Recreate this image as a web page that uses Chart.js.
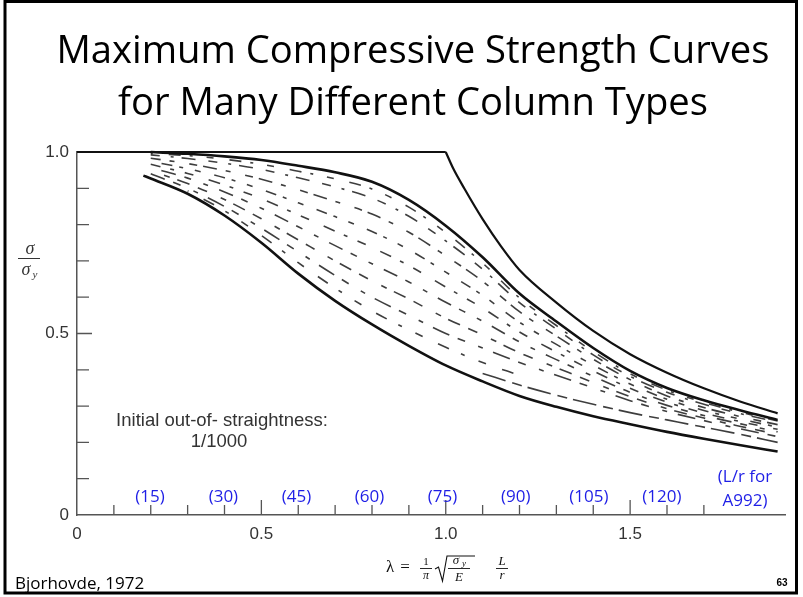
<!DOCTYPE html>
<html>
<head>
<meta charset="utf-8">
<script src="https://cdn.jsdelivr.net/npm/chart.js@4.4.1/dist/chart.umd.min.js"></script>
<style>
  html, body { margin: 0; padding: 0; background: #fff; }
  #wrap { width: 803px; height: 597px; position: relative; }
</style>
</head>
<body>
<div id="wrap"><canvas id="chart" width="803" height="597"></canvas></div>
<script>
// ─── DATA (λ on x, σ/σy on y) ───────────────────────

// yield plateau + Euler curve
const plateauLambda = [0, 1.0];
const plateauSigma  = [1.0, 1.0];
const eulerLambda   = [1.0, 1.02, 1.05, 1.1, 1.15, 1.2, 1.3, 1.4, 1.5, 1.6, 1.7, 1.8, 1.9];
const eulerSigma    = [1.0, 0.955, 0.9, 0.815, 0.74, 0.675, 0.585, 0.507, 0.443, 0.392, 0.349, 0.312, 0.28];

// upper and lower envelope of the column curves
const upperLambda = [0.2, 0.3, 0.4, 0.5, 0.6, 0.7, 0.8, 0.9, 1.0, 1.1, 1.2, 1.3, 1.4, 1.5, 1.6, 1.7, 1.8, 1.9];
const upperSigma  = [1.0, 0.995, 0.988, 0.978, 0.962, 0.944, 0.918, 0.868, 0.797, 0.71, 0.61, 0.533, 0.46, 0.397, 0.35, 0.316, 0.288, 0.262];
const lowerLambda = [0.18, 0.2, 0.3, 0.4, 0.5, 0.6, 0.7, 0.8, 0.9, 1.0, 1.1, 1.2, 1.3, 1.4, 1.5, 1.6, 1.7, 1.8, 1.9];
const lowerSigma  = [0.935, 0.927, 0.885, 0.825, 0.75, 0.665, 0.59, 0.525, 0.466, 0.412, 0.368, 0.328, 0.298, 0.272, 0.25, 0.229, 0.21, 0.192, 0.175];

// the many individual column curves (broken lines inside the band)
const bandLambda = [0.2, 0.3, 0.4, 0.5, 0.6, 0.7, 0.8, 0.9, 1.0, 1.1, 1.2, 1.3, 1.4, 1.5, 1.6, 1.7, 1.8, 1.9];
const band0 = [0.996, 0.99, 0.98, 0.966, 0.947, 0.926, 0.898, 0.848, 0.778, 0.694, 0.598, 0.522, 0.45, 0.389, 0.344, 0.31, 0.283, 0.259];
const band1 = [0.992, 0.982, 0.969, 0.952, 0.929, 0.904, 0.873, 0.823, 0.755, 0.677, 0.585, 0.512, 0.441, 0.382, 0.338, 0.305, 0.279, 0.256];
const band2 = [0.983, 0.968, 0.949, 0.925, 0.896, 0.864, 0.829, 0.779, 0.714, 0.644, 0.56, 0.493, 0.429, 0.373, 0.328, 0.296, 0.271, 0.249];
const band3 = [0.974, 0.954, 0.929, 0.897, 0.86, 0.822, 0.781, 0.731, 0.669, 0.605, 0.531, 0.47, 0.413, 0.361, 0.319, 0.288, 0.264, 0.242];
const band4 = [0.966, 0.941, 0.909, 0.871, 0.827, 0.782, 0.737, 0.687, 0.628, 0.57, 0.504, 0.449, 0.397, 0.349, 0.311, 0.281, 0.257, 0.236];
const band5 = [0.957, 0.928, 0.89, 0.845, 0.794, 0.742, 0.692, 0.642, 0.586, 0.534, 0.477, 0.428, 0.382, 0.338, 0.302, 0.274, 0.251, 0.229];
const band6 = [0.948, 0.913, 0.869, 0.816, 0.758, 0.7, 0.645, 0.595, 0.542, 0.496, 0.447, 0.406, 0.365, 0.326, 0.293, 0.267, 0.244, 0.222];
const band7 = [0.94, 0.9, 0.85, 0.79, 0.725, 0.66, 0.6, 0.55, 0.5, 0.46, 0.42, 0.385, 0.35, 0.315, 0.285, 0.26, 0.237, 0.216];
const band8Lambda = [1.1, 1.2, 1.3, 1.4, 1.5, 1.6, 1.7, 1.8, 1.9];
const band8 = [0.39, 0.358, 0.33, 0.305, 0.282, 0.262, 0.242, 0.222, 0.2];
const band9Lambda = [0.3, 0.4, 0.5, 0.6, 0.7, 0.8, 0.9, 1.0, 1.1, 1.2];
const band9 = [0.893, 0.838, 0.77, 0.695, 0.625, 0.562, 0.51, 0.462, 0.42, 0.385];

// slenderness L/r for A992, placed over the λ axis
const lrLabels = ['(15)', '(30)', '(45)', '(60)', '(75)', '(90)', '(105)', '(120)'];
const lrLambda = [0.198, 0.397, 0.595, 0.793, 0.991, 1.19, 1.388, 1.586];

const titleLines = ['Maximum Compressive Strength Curves', 'for Many Different Column Types'];

// ─── HELPERS ────────────────────────────────────────

const pts = (xs, ys) => xs.map((v, i) => ({ x: v, y: ys[i] }));
const isHalf = v => Math.abs(v * 2 - Math.round(v * 2)) < 1e-6;

function solid(label, xs, ys, w) {
  return {
    label, data: pts(xs, ys),
    borderColor: '#111', borderWidth: w,
    pointRadius: 0, cubicInterpolationMode: 'monotone', clip: false
  };
}

function broken(label, xs, ys, dash, offset) {
  return {
    label, data: pts(xs, ys),
    borderColor: 'rgba(20,20,20,0.82)', borderWidth: 1.6,
    borderDash: dash, borderDashOffset: offset,
    pointRadius: 0, cubicInterpolationMode: 'monotone'
  };
}

// ─── DECORATION PLUGIN ──────────────────────────────

const slide = {
  id: 'slide',
  beforeDraw(chart) {
    const ctx = chart.ctx;
    ctx.save();
    ctx.fillStyle = '#fff';
    ctx.fillRect(0, 0, chart.width, chart.height);
    ctx.restore();
  },
  afterDraw(chart) {
    const { ctx, scales: { x, y } } = chart;
    ctx.save();

    // inward tick marks
    ctx.strokeStyle = '#555';
    ctx.lineWidth = 1.3;
    ctx.beginPath();
    x.ticks.forEach(t => {
      const v = t.value;
      if (v < 0.05 || v > 1.75) return;
      const px = x.getPixelForValue(v);
      ctx.moveTo(px, y.bottom);
      ctx.lineTo(px, y.bottom - (isHalf(v) ? 15 : 10));
    });
    y.ticks.forEach(t => {
      const v = t.value;
      if (v < 0.05 || v > 0.95) return;
      const py = y.getPixelForValue(v);
      ctx.moveTo(x.left, py);
      ctx.lineTo(x.left + (isHalf(v) ? 15 : 12), py);
    });
    ctx.stroke();

    // title
    ctx.fillStyle = '#000';
    ctx.textAlign = 'center';
    ctx.textBaseline = 'alphabetic';
    ctx.font = '40px "Open Sans"';
    const fit = 40 * 713 / ctx.measureText(titleLines[0]).width;
    ctx.font = fit.toFixed(1) + 'px "Open Sans"';
    ctx.fillText(titleLines[0], 413, 63);
    ctx.fillText(titleLines[1], 413, 115);

    // L/r labels
    ctx.fillStyle = '#1e1ee6';
    ctx.font = '17px "Open Sans"';
    ctx.textBaseline = 'middle';
    lrLabels.forEach((s, i) => ctx.fillText(s, x.getPixelForValue(lrLambda[i]), 497));
    ctx.fillText('(L/r for', 745, 477);
    ctx.fillText('A992)', 745, 501);

    // note
    ctx.fillStyle = '#333';
    ctx.font = '18.5px "Liberation Sans"';
    ctx.fillText('Initial out-of- straightness:', 222, 421);
    ctx.fillText('1/1000', 219, 442);

    // y axis label σ / σy
    ctx.textBaseline = 'alphabetic';
    ctx.font = 'italic 18px "Liberation Serif"';
    ctx.fillText('σ', 30, 254);
    ctx.fillText('σ', 26, 275);
    ctx.font = 'italic 11px "Liberation Serif"';
    ctx.fillText('y', 35, 278);
    ctx.strokeStyle = '#333';
    ctx.lineWidth = 1;
    ctx.beginPath();
    ctx.moveTo(18, 258.5); ctx.lineTo(40, 258.5);
    ctx.stroke();

    // λ = (1/π) √(σy/E) L/r
    ctx.fillStyle = '#111';
    ctx.strokeStyle = '#111';
    ctx.font = '17px "Liberation Serif"';
    ctx.fillText('λ', 390, 572);
    ctx.fillText('=', 405, 572);
    ctx.font = '11px "Liberation Serif"';
    ctx.fillText('1', 426, 565);
    ctx.font = 'italic 12px "Liberation Serif"';
    ctx.fillText('π', 426, 579);
    ctx.font = 'italic 13px "Liberation Serif"';
    ctx.fillText('σ', 456, 564);
    ctx.fillText('E', 459, 581);
    ctx.fillText('L', 502, 565);
    ctx.fillText('r', 502, 579);
    ctx.font = 'italic 9px "Liberation Serif"';
    ctx.fillText('y', 464, 566);
    ctx.lineWidth = 0.9;
    ctx.beginPath();
    ctx.moveTo(420, 568.5); ctx.lineTo(432, 568.5);
    ctx.moveTo(448, 568.5); ctx.lineTo(470, 568.5);
    ctx.moveTo(496, 568.5); ctx.lineTo(508, 568.5);
    ctx.stroke();
    ctx.lineWidth = 1.1;
    ctx.beginPath();
    ctx.moveTo(435, 569); ctx.lineTo(438.5, 567); ctx.lineTo(442.5, 581);
    ctx.lineTo(447, 556); ctx.lineTo(475, 556);
    ctx.stroke();

    // footer
    ctx.fillStyle = '#000';
    ctx.textAlign = 'left';
    ctx.font = '17px "Open Sans"';
    ctx.fillText('Bjorhovde, 1972', 15, 589);
    ctx.textAlign = 'center';
    ctx.font = 'bold 10px "Liberation Sans"';
    ctx.fillText('63', 782, 586);

    // slide frame
    ctx.strokeStyle = '#000';
    ctx.lineWidth = 3;
    ctx.strokeRect(5, 1.5, 791.5, 591.5);
    ctx.restore();
  }
};

// ─── CHART ──────────────────────────────────────────

const tickFont = { family: "'Liberation Sans', sans-serif", size: 17 };

new Chart(document.getElementById('chart'), {
  type: 'line',
  data: {
    datasets: [
      broken('c0', bandLambda, band0, [7, 16, 12, 9, 3, 14], 5),
      broken('c1', bandLambda, band1, [9, 11, 3, 8, 14, 13], 0),
      broken('c2', bandLambda, band2, [14, 9, 5, 15, 8, 6], 4),
      broken('c3', bandLambda, band3, [6, 14, 11, 7, 4, 12], 9),
      broken('c4', bandLambda, band4, [12, 10, 4, 11, 9, 16], 2),
      broken('c5', bandLambda, band5, [5, 12, 15, 9, 7, 13], 6),
      broken('c6', bandLambda, band6, [10, 15, 6, 8, 13, 9], 11),
      broken('c7', bandLambda, band7, [18, 9, 8, 14, 5, 11], 3),
      broken('c8', band8Lambda, band8, [24, 7, 10, 6], 0),
      broken('c9', band9Lambda, band9, [8, 17, 12, 13, 4, 15], 7),
      solid('plateau', plateauLambda, plateauSigma, 2.2),
      solid('euler', eulerLambda, eulerSigma, 2.2),
      solid('upper', upperLambda, upperSigma, 2.6),
      solid('lower', lowerLambda, lowerSigma, 2.6)
    ]
  },
  options: {
    responsive: false,
    animation: false,
    devicePixelRatio: 1,
    layout: { padding: { top: 152, right: 18, left: 0, bottom: 0 } },
    plugins: { legend: { display: false }, tooltip: { enabled: false } },
    scales: {
      x: {
        type: 'linear', min: 0, max: 1.92,
        grid: { display: false, drawTicks: false },
        border: { display: true, color: '#555', width: 1.5 },
        afterFit: s => { s.height = 82; },
        ticks: {
          stepSize: 0.1, padding: 9, color: '#333', font: tickFont,
          maxRotation: 0, autoSkip: false,
          callback: v => (v === 0 ? '0' : (isHalf(v) && v < 1.8 ? v.toFixed(1) : ''))
        }
      },
      y: {
        min: 0, max: 1.0,
        grid: { display: false, drawTicks: false },
        border: { display: true, color: '#555', width: 1.5 },
        afterFit: s => { s.width = 77; },
        ticks: {
          stepSize: 0.1, padding: 8, color: '#333', font: tickFont,
          autoSkip: false,
          callback: v => (v === 0 ? '0' : (isHalf(v) ? v.toFixed(1) : ''))
        }
      }
    }
  },
  plugins: [slide]
});
</script>
</body>
</html>
